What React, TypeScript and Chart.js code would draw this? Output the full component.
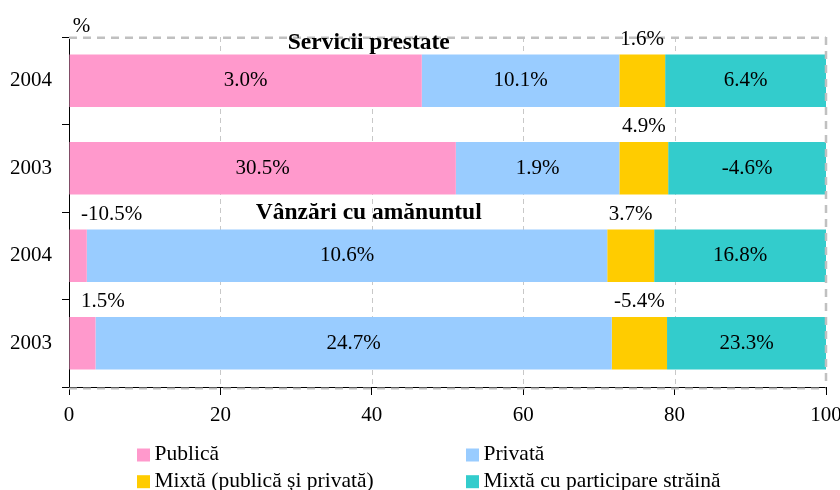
import React, { useEffect, useRef } from "react";
import { Chart, registerables } from "chart.js";

Chart.register(...registerables);

const categories = ["2004", "2003", "2004", "2003"];
const groupTitles = ["Servicii prestate", "Vânzări cu amănuntul"];
const seriesNames = [
  "Publică",
  "Privată",
  "Mixtă (publică și privată)",
  "Mixtă cu participare străină",
];
const publica = [46.6, 51.1, 2.35, 3.5];
const privata = [26.1, 21.6, 68.75, 68.2];
const mixta = [6.05, 6.45, 6.2, 7.3];
const straina = [21.25, 20.85, 22.7, 21.0];
const publicaLabels = ["3.0%", "30.5%", "-10.5%", "1.5%"];
const privataLabels = ["10.1%", "1.9%", "10.6%", "24.7%"];
const mixtaLabels = ["1.6%", "4.9%", "3.7%", "-5.4%"];
const strainaLabels = ["6.4%", "-4.6%", "16.8%", "23.3%"];
const xTickStep = 20;
const unitLabel = "%";

const colors = ["#FF99CC", "#99CCFF", "#FFCC00", "#33CCCC"];
const FONT = "'Liberation Serif', 'Times New Roman', Times, serif";

const seriesValues = [publica, privata, mixta, straina];
const seriesLabels = [publicaLabels, privataLabels, mixtaLabels, strainaLabels];

const decorPlugin = {
  id: "decor",
  beforeDatasetsDraw(chart: any) {
    const { ctx, chartArea: a, scales } = chart;
    const x = scales.x;
    ctx.save();
    ctx.strokeStyle = "#c8c8c8";
    ctx.lineWidth = 1;
    ctx.setLineDash([5, 4]);
    for (let v = xTickStep; v < 100; v += xTickStep) {
      const px = Math.round(x.getPixelForValue(v)) + 0.5;
      ctx.beginPath();
      ctx.moveTo(px, a.top);
      ctx.lineTo(px, a.bottom);
      ctx.stroke();
    }
    ctx.strokeStyle = "#c0c0c0";
    ctx.lineWidth = 2.5;
    ctx.setLineDash([8, 6]);
    ctx.beginPath();
    ctx.moveTo(a.left, a.top + 0.8);
    ctx.lineTo(a.right, a.top + 0.8);
    ctx.stroke();
    ctx.lineWidth = 2;
    ctx.beginPath();
    ctx.moveTo(a.left, a.bottom + 1.5);
    ctx.lineTo(a.right, a.bottom + 1.5);
    ctx.stroke();
    ctx.restore();
  },
  afterDatasetsDraw(chart: any) {
    const { ctx, chartArea: a, scales } = chart;
    const x = scales.x;
    const y = scales.y;
    ctx.save();
    // right dashed border
    ctx.strokeStyle = "#c0c0c0";
    ctx.lineWidth = 2.5;
    ctx.setLineDash([8, 6]);
    ctx.beginPath();
    ctx.moveTo(a.right, a.top);
    ctx.lineTo(a.right, a.bottom);
    ctx.stroke();
    ctx.setLineDash([]);

    const band = y.getPixelForValue(1) - y.getPixelForValue(0);
    ctx.fillStyle = "#000";
    ctx.font = `21px ${FONT}`;
    ctx.textBaseline = "middle";
    ctx.textAlign = "center";
    seriesLabels.forEach((labels, di) => {
      const meta = chart.getDatasetMeta(di);
      meta.data.forEach((el: any, j: number) => {
        const text = labels[j];
        const w = ctx.measureText(text).width;
        const x0 = Math.min(el.x, el.base);
        const x1 = Math.max(el.x, el.base);
        const cx = (x0 + x1) / 2;
        if (x1 - x0 >= w + 12) {
          ctx.fillText(text, cx, el.y);
        } else {
          const by = y.getPixelForValue(j) - band / 2 + 2;
          const px = Math.max(cx, a.left + w / 2 + 12);
          ctx.fillText(text, px, by);
        }
      });
    });

    // group titles
    ctx.font = `bold 23.5px ${FONT}`;
    groupTitles.forEach((t, g) => {
      const row = g * 2;
      const by = y.getPixelForValue(row) - band / 2;
      ctx.fillText(t, x.getPixelForValue(39.6), Math.max(by + 1, a.top + 6));
    });
    ctx.restore();
  },
  afterDraw(chart: any) {
    const { ctx, chartArea: a } = chart;
    ctx.save();
    ctx.fillStyle = "#000";
    ctx.font = `21px ${FONT}`;
    ctx.textAlign = "center";
    ctx.textBaseline = "alphabetic";
    ctx.fillText(unitLabel, a.left + 12.5, a.top - 5);

    // legend
    const cols = [137, 466];
    const rows = [455, 481.7];
    ctx.textAlign = "left";
    ctx.textBaseline = "middle";
    ctx.font = `21.5px ${FONT}`;
    seriesNames.forEach((name, i) => {
      const bx = cols[i % 2];
      const cy = rows[Math.floor(i / 2)];
      ctx.fillStyle = colors[i];
      ctx.fillRect(bx, cy - 6.5, 13, 13);
      ctx.fillStyle = "#000";
      ctx.fillText(name, bx + 17.5, cy - 0.5);
    });
    ctx.restore();
  },
};

export default function App() {
  const ref = useRef<HTMLCanvasElement | null>(null);
  useEffect(() => {
    if (!ref.current) return;
    const chart = new Chart(ref.current, {
      type: "bar",
      data: {
        labels: categories,
        datasets: seriesNames.map((name, i) => ({
          label: name,
          data: seriesValues[i],
          backgroundColor: colors[i],
          borderWidth: 0,
          barPercentage: 0.6,
          categoryPercentage: 1.0,
        })),
      },
      options: {
        animation: false,
        responsive: false,
        indexAxis: "y",
        layout: { padding: { top: 37, right: 14, left: 0, bottom: 0 } },
        plugins: { legend: { display: false }, tooltip: { enabled: false } },
        scales: {
          x: {
            stacked: true,
            min: 0,
            max: 100,
            ticks: {
              stepSize: xTickStep,
              color: "#000",
              font: { family: FONT, size: 21 },
              padding: 8,
              maxRotation: 0,
            },
            grid: { drawOnChartArea: false, drawTicks: true, tickLength: 8, color: "#000" },
            border: { color: "#000", width: 1 },
            afterFit(s: any) {
              s.height = 103;
              s.paddingLeft = 0;
              s.paddingRight = 0;
            },
          },
          y: {
            stacked: true,
            ticks: { color: "#000", font: { family: FONT, size: 21 }, padding: 10 },
            grid: { drawOnChartArea: false, tickLength: 7, color: "#000", offset: true },
            border: { color: "#000", width: 1 },
            afterFit(s: any) {
              s.width = 69;
            },
          },
        },
      } as any,
      plugins: [decorPlugin],
    });
    return () => chart.destroy();
  }, []);
  return (
    <div style={{ position: "absolute", left: 0, top: 0, width: 840, height: 490, background: "#fff" }}>
      <canvas ref={ref} width={840} height={490} style={{ display: "block" }} />
    </div>
  );
}
